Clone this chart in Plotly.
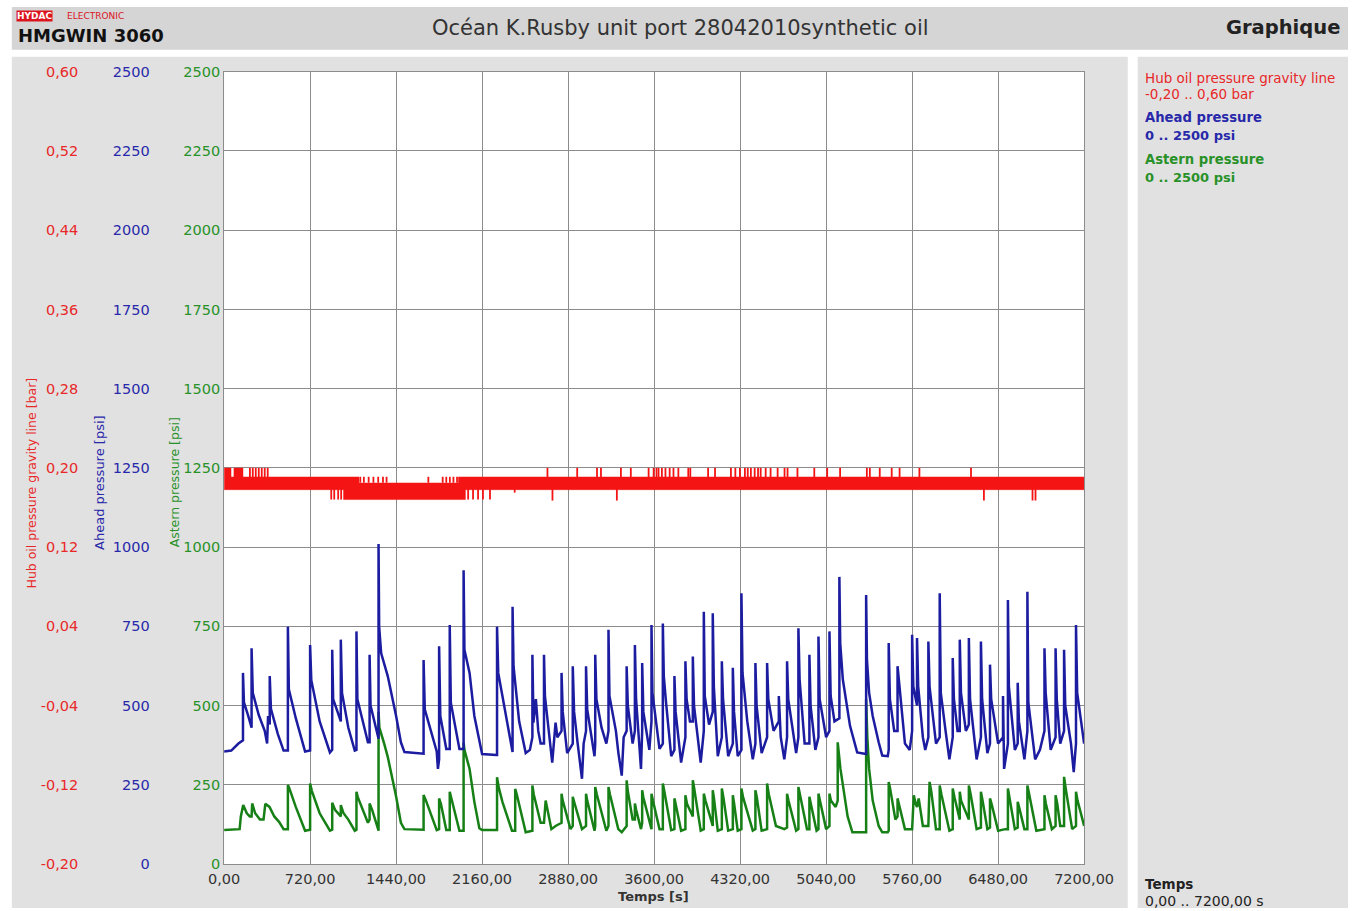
import plotly.graph_objects as go

# ---------------- data ----------------
x_ticks = [0, 720, 1440, 2160, 2880, 3600, 4320, 5040, 5760, 6480, 7200]
x_ticklabels = ["0,00", "720,00", "1440,00", "2160,00", "2880,00", "3600,00",
                "4320,00", "5040,00", "5760,00", "6480,00", "7200,00"]
psi_ticks = [0, 250, 500, 750, 1000, 1250, 1500, 1750, 2000, 2250, 2500]
psi_ticklabels = ["0", "250", "500", "750", "1000", "1250", "1500", "1750", "2000", "2250", "2500"]
bar_ticks = [-0.20, -0.12, -0.04, 0.04, 0.12, 0.20, 0.28, 0.36, 0.44, 0.52, 0.60]
bar_ticklabels = ["-0,20", "-0,12", "-0,04", "0,04", "0,12", "0,20", "0,28", "0,36", "0,44", "0,52", "0,60"]

# Ahead pressure [psi]
blue_t = [0, 60, 120, 158, 158, 166, 200, 230, 230, 240, 290, 340, 360, 368, 382, 382, 392, 450, 498,
          534, 534, 542, 600, 678, 720, 720, 730, 800, 886, 905, 905, 913, 950, 977, 977, 987, 1040, 1094,
          1108, 1108, 1116, 1170, 1204, 1218, 1218, 1226, 1288, 1293, 1293, 1298, 1315, 1370, 1440, 1480,
          1510, 1670, 1670, 1680, 1780, 1790, 1800, 1800, 1810, 1860, 1889, 1889, 1898, 1970, 2005, 2005,
          2012, 2055, 2095, 2137, 2160, 2280, 2285, 2285, 2295, 2330, 2410, 2415, 2415, 2423, 2470, 2525,
          2560, 2581, 2581, 2590, 2610, 2630, 2650, 2678, 2678, 2686, 2747, 2775, 2790, 2825, 2825, 2835,
          2872, 2919, 2919, 2930, 2960, 2996, 3010, 3030, 3030, 3040, 3101, 3107, 3107, 3117, 3160, 3200,
          3218, 3218, 3226, 3280, 3301, 3329, 3345, 3370, 3370, 3380, 3420, 3439, 3439, 3449, 3490, 3500,
          3500, 3510, 3560, 3578, 3578, 3586, 3645, 3673, 3673, 3681, 3700, 3743, 3770, 3770, 3780, 3826,
          3862, 3862, 3872, 3900, 3924, 3924, 3934, 3990, 4016, 4016, 4024, 4060, 4091, 4091, 4100, 4133,
          4167, 4167, 4177, 4220, 4259, 4259, 4269, 4300, 4331, 4331, 4340, 4380, 4426, 4448, 4448, 4458,
          4500, 4546, 4546, 4556, 4600, 4644, 4644, 4660, 4690, 4713, 4713, 4723, 4789, 4808, 4808, 4818,
          4860, 4900, 4900, 4910, 4950, 4976, 4976, 4986, 5040, 5068, 5068, 5078, 5110, 5151, 5151, 5158,
          5180, 5240, 5300, 5361, 5375, 5375, 5382, 5400, 5430, 5480, 5510, 5556, 5564, 5564, 5574, 5610,
          5638, 5638, 5650, 5700, 5740, 5760, 5760, 5770, 5801, 5801, 5811, 5850, 5870, 5896, 5896, 5906,
          5960, 5991, 5991, 6000, 6040, 6072, 6100, 6100, 6110, 6140, 6159, 6159, 6169, 6210, 6235, 6235,
          6245, 6300, 6336, 6336, 6346, 6390, 6412, 6412, 6422, 6480, 6521, 6521, 6530, 6562, 6562, 6570,
          6620, 6644, 6644, 6654, 6700, 6725, 6725, 6733, 6790, 6830, 6868, 6868, 6878, 6920, 6961, 6961,
          6971, 7000, 7032, 7032, 7042, 7090, 7113, 7132, 7132, 7142, 7200]
blue_v = [355, 358, 380, 390, 603, 510, 470, 430, 681, 540, 470, 420, 380, 467, 440, 593, 490, 410, 358,
          358, 749, 551, 460, 355, 358, 691, 580, 450, 352, 360, 676, 520, 480, 450, 708, 540, 430, 358,
          360, 734, 520, 440, 384, 384, 660, 500, 395, 395, 1010, 749, 665, 593, 467, 384,
          353, 348, 644, 488, 355, 300, 330, 687, 467, 363, 363, 754, 509, 363, 363, 927,
          676, 603, 467, 384, 347, 344, 344, 749, 603, 530, 353, 353, 812, 624, 450, 350,
          360, 400, 660, 446, 520, 420, 380, 380, 660, 530, 320, 446, 400, 420, 603, 480,
          350, 380, 624, 480, 380, 269, 380, 420, 624, 488, 340, 380, 660, 520, 430, 380,
          420, 739, 530, 420, 350, 279, 400, 420, 624, 500, 380, 420, 691, 520, 300, 420,
          634, 480, 360, 450, 754, 540, 363, 380, 759, 593, 509, 340, 360, 593, 480, 320,
          400, 640, 520, 450, 450, 655, 500, 320, 420, 796, 530, 440, 480, 791, 560, 340,
          400, 640, 520, 340, 380, 619, 480, 340, 360, 854, 603, 450, 330, 380, 634, 500,
          350, 400, 634, 520, 420, 450, 530, 400, 330, 400, 640, 520, 350, 400, 744, 582,
          380, 380, 660, 500, 360, 400, 718, 520, 400, 420, 734, 530, 450, 460, 906, 697,
          582, 436, 352, 347, 347, 849, 644, 540, 467, 384, 342, 340, 360, 697, 520, 420,
          420, 624, 572, 380, 360, 420, 723, 560, 500, 713, 560, 400, 360, 400, 702, 560,
          380, 400, 854, 540, 420, 330, 400, 650, 520, 420, 420, 708, 540, 420, 440, 713,
          520, 330, 400, 702, 520, 350, 380, 629, 520, 380, 400, 530, 300, 380, 833, 560,
          360, 380, 572, 450, 330, 420, 859, 509, 330, 360, 420, 681, 540, 360, 400, 681,
          520, 380, 420, 676, 500, 380, 290, 380, 754, 540, 380]

# Astern pressure [psi]
green_t = [0, 130, 140, 160, 190, 215, 230, 235, 260, 300, 330, 345, 380, 420, 460, 498, 534, 534, 545,
           600, 678, 720, 720, 735, 800, 886, 905, 905, 930, 977, 977, 1000, 1040, 1094, 1108, 1108, 1120,
           1170, 1204, 1218, 1218, 1240, 1288, 1293, 1293, 1300, 1340, 1370, 1440, 1480, 1510, 1670, 1670,
           1690, 1780, 1800, 1800, 1815, 1860, 1889, 1889, 1900, 1970, 2005, 2005, 2012, 2055, 2095, 2137,
           2160, 2280, 2285, 2285, 2300, 2330, 2410, 2437, 2437, 2450, 2525, 2581, 2581, 2592, 2650, 2678,
           2692, 2740, 2775, 2825, 2825, 2835, 2900, 2919, 2919, 2935, 2996, 3030, 3030, 3040, 3101, 3107,
           3107, 3120, 3200, 3218, 3218, 3230, 3300, 3329, 3370, 3370, 3380, 3420, 3439, 3439, 3450, 3490,
           3500, 3500, 3510, 3578, 3578, 3590, 3645, 3673, 3673, 3685, 3743, 3770, 3770, 3780, 3826, 3862,
           3862, 3875, 3924, 3924, 3935, 3990, 4016, 4016, 4030, 4091, 4091, 4100, 4133, 4167, 4167, 4180,
           4220, 4259, 4259, 4270, 4300, 4331, 4331, 4345, 4426, 4448, 4448, 4460, 4500, 4546, 4546, 4560,
           4620, 4690, 4713, 4713, 4725, 4789, 4808, 4808, 4820, 4880, 4900, 4900, 4912, 4960, 4976, 4976,
           4988, 5040, 5068, 5068, 5080, 5120, 5137, 5137, 5160, 5180, 5220, 5260, 5361, 5375, 5375, 5385,
           5400, 5430, 5480, 5510, 5556, 5564, 5564, 5575, 5620, 5638, 5638, 5650, 5700, 5760, 5774, 5790,
           5801, 5815, 5850, 5896, 5906, 5920, 5960, 5991, 5991, 6005, 6072, 6100, 6100, 6115, 6159, 6159,
           6170, 6235, 6235, 6250, 6300, 6336, 6336, 6350, 6390, 6412, 6412, 6425, 6480, 6540, 6562, 6562,
           6575, 6620, 6644, 6644, 6655, 6700, 6725, 6725, 6740, 6800, 6868, 6868, 6880, 6930, 6961, 6961,
           6975, 7000, 7032, 7032, 7045, 7100, 7132, 7132, 7145, 7200]
green_v = [107, 110, 150, 186, 160, 150, 150, 191, 160, 140, 140, 190, 180, 150, 133, 110, 110, 249, 240,
           180, 105, 108, 254, 230, 160, 105, 108, 193, 170, 150, 186, 160, 140, 105, 108, 228, 210,
           160, 130, 140, 191, 170, 105, 105, 480, 430, 380, 338, 213, 130, 110, 108, 218,
           200, 107, 110, 207, 190, 107, 107, 228, 210, 105, 105, 384, 360, 300, 196, 113,
           107, 107, 107, 274, 240, 196, 105, 105, 237, 220, 100, 105, 248, 220, 130, 130,
           200, 110, 120, 130, 222, 200, 110, 120, 212, 190, 110, 120, 222, 200, 105, 120,
           243, 220, 105, 120, 243, 220, 110, 100, 120, 264, 230, 140, 140, 191, 170, 110,
           130, 233, 210, 110, 222, 200, 110, 110, 254, 230, 107, 110, 207, 190, 105, 110,
           217, 190, 150, 264, 240, 105, 110, 222, 200, 120, 233, 210, 105, 110, 238, 210,
           105, 110, 217, 190, 105, 110, 238, 210, 105, 110, 233, 210, 105, 110, 254, 220,
           120, 110, 115, 222, 200, 105, 110, 243, 220, 110, 110, 212, 190, 105, 110, 222,
           200, 110, 120, 222, 200, 180, 200, 384, 300, 250, 150, 100, 100, 100, 520, 400,
           300, 200, 120, 100, 100, 105, 259, 240, 140, 150, 207, 190, 110, 110, 217, 190,
           180, 207, 120, 120, 259, 230, 110, 110, 248, 220, 105, 110, 238, 210, 140, 228,
           200, 140, 248, 220, 110, 115, 228, 200, 110, 115, 207, 190, 105, 110, 110, 238,
           210, 110, 115, 196, 180, 110, 110, 248, 220, 105, 110, 217, 190, 110, 120, 217,
           190, 120, 120, 275, 240, 110, 120, 228, 200, 120]

# Hub oil pressure gravity line [bar]: band envelope (step segments)
red_seg_t = [0, 60, 80, 160, 880, 1000, 1130, 1960, 2020, 7200]
red_seg_hi = [0.200, 0.191, 0.200, 0.191, 0.191, 0.191, 0.185, 0.191, 0.191, 0.191]
red_seg_lo = [0.178, 0.178, 0.178, 0.178, 0.178, 0.168, 0.168, 0.168, 0.178, 0.178]
# short excursions above / below the band
red_up_t = [216, 240, 265, 290, 315, 340, 365,
            1140, 1170, 1210, 1250, 1290, 1330, 1360, 1710, 1830, 1860, 1890, 1920, 1950,
            2707, 2956, 3122, 3155, 3322, 3405, 3554, 3596, 3620, 3637, 3665, 3695, 3730, 3762,
            3803, 3886, 3903, 4052, 4110, 4243, 4280, 4318, 4360, 4384, 4410, 4442, 4470, 4492,
            4534, 4575, 4634, 4692, 4717, 4800, 4941, 5049, 5157, 5381, 5406, 5489, 5589, 5655,
            5821, 6253]
red_up_v = [0.200, 0.200, 0.200, 0.200, 0.200, 0.200, 0.200,
            0.191, 0.191, 0.191, 0.191, 0.191, 0.191, 0.191, 0.191, 0.191, 0.191, 0.191, 0.191, 0.191,
            0.200, 0.200, 0.200, 0.200, 0.200, 0.200, 0.200, 0.200, 0.200, 0.200, 0.200, 0.200, 0.200,
            0.200, 0.200, 0.200, 0.200, 0.200, 0.200, 0.200, 0.200, 0.200, 0.200, 0.200, 0.200, 0.200,
            0.200, 0.200, 0.200, 0.200, 0.200, 0.200, 0.200, 0.200, 0.200, 0.200, 0.200, 0.200, 0.200,
            0.200, 0.200, 0.200, 0.200, 0.200, 0.200]
red_dn_t = [897, 922, 955, 980, 2043, 2084, 2126, 2167, 2226, 2433, 2749, 3288, 6361, 6768, 6793]
red_dn_v = [0.168, 0.168, 0.168, 0.168, 0.168, 0.168, 0.168, 0.168, 0.168, 0.175, 0.167, 0.167,
            0.167, 0.167, 0.167]

# ---------------- styling ----------------
RED = "rgb(245,20,20)"
BLUE = "rgb(28,28,160)"
GREEN = "rgb(22,128,22)"
RED_T = "rgb(232,40,40)"
BLUE_T = "rgb(40,40,170)"
GREEN_T = "rgb(40,145,40)"
GRID = "#8c8c8c"
FONT = "DejaVu Sans, Liberation Sans, sans-serif"

# figure size and mapping from reference-image pixels to figure pixels
FW, FH = 1400, 930
def fx(X):
    return (X - 12.2) / 0.975
def fy(Y):
    return (Y - 6.1) / 0.985
def px(X):
    return fx(X) / FW
def py(Y):
    return 1 - fy(Y) / FH

x0, x1 = 222, 1089
y0, y1 = 70, 864

fig = go.Figure()

fig.add_trace(go.Scatter(x=green_t, y=green_v, mode="lines", line=dict(color=GREEN, width=2.5),
                         yaxis="y", name="Astern pressure"))
fig.add_trace(go.Scatter(x=blue_t, y=blue_v, mode="lines", line=dict(color=BLUE, width=2.5),
                         yaxis="y2", name="Ahead pressure"))
fig.add_trace(go.Scatter(x=red_seg_t, y=red_seg_hi, mode="lines", line=dict(color=RED, width=0, shape="hv"),
                         yaxis="y3", showlegend=False))
fig.add_trace(go.Scatter(x=red_seg_t, y=red_seg_lo, mode="lines", line=dict(color=RED, width=0.5, shape="hv"),
                         fill="tonexty", fillcolor=RED, yaxis="y3", showlegend=False))
sx, sy = [], []
for t, v in zip(red_up_t, red_up_v):
    sx += [t, t, None]
    sy += [0.185, v, None]
for t, v in zip(red_dn_t, red_dn_v):
    sx += [t, t, None]
    sy += [0.185, v, None]
fig.add_trace(go.Scatter(x=sx, y=sy, mode="lines", line=dict(color=RED, width=1.8),
                         yaxis="y3", showlegend=False))

def rect(X0, Y0, X1, Y1, color):
    return dict(type="rect", xref="paper", yref="paper", x0=px(X0), x1=px(X1), y0=py(Y1), y1=py(Y0),
                fillcolor=color, line=dict(width=0), layer="below")

shapes = [
    rect(8, 5, 1355, 48, "#d5d5d5"),
    rect(8, 55, 1133, 908, "#e1e1e1"),
    rect(1143, 55, 1355, 908, "#e1e1e1"),
    rect(x0, y0, x1, y1, "white"),
]

def ann(text, x, y, size=12, color="black", xanchor="left", yanchor="middle", angle=0, bold=False, bg=None):
    d = dict(text=("<b>%s</b>" % text) if bold else text, x=px(x), y=py(y), xref="paper", yref="paper",
             showarrow=False, xanchor=xanchor, yanchor=yanchor, textangle=angle,
             font=dict(family=FONT, size=size, color=color))
    if bg:
        d["bgcolor"] = bg
        d["borderpad"] = 0
    return d

annotations = [
    ann("HYDAC", 12, 14, size=9, color="white", bold=True, bg="rgb(220,20,30)"),
    ann("ELECTRONIC", 62, 14, size=9, color="rgb(220,20,30)"),
    ann("HMGWIN 3060", 12, 34, size=18, color="#111", bold=True),
    ann("Océan K.Rusby unit port 28042010synthetic oil", 682, 26, size=21, color="#333", xanchor="center"),
    ann("Graphique", 1349, 26, size=19.5, color="#222", xanchor="right", bold=True),
    ann("Hub oil pressure gravity line [bar]", 28, 482, size=12.5, color=RED_T, xanchor="center", angle=-90),
    ann("Ahead pressure [psi]", 97, 482, size=13, color=BLUE_T, xanchor="center", angle=-90),
    ann("Astern pressure [psi]", 172, 482, size=12.5, color=GREEN_T, xanchor="center", angle=-90),
    ann("Temps [s]", 655, 897, size=13, color="#333", xanchor="center", bold=True),
    ann("Hub oil pressure gravity line", 1148, 76, size=13.5, color=RED_T),
    ann("-0,20 .. 0,60 bar", 1148, 92, size=13.5, color=RED_T),
    ann("Ahead pressure", 1148, 116, size=13.2, color=BLUE_T, bold=True),
    ann("0 .. 2500 psi", 1148, 134, size=13, color=BLUE_T, bold=True),
    ann("Astern pressure", 1148, 158, size=13.2, color=GREEN_T, bold=True),
    ann("0 .. 2500 psi", 1148, 176, size=13, color=GREEN_T, bold=True),
    ann("Temps", 1148, 884, size=13.5, color="#222", bold=True),
    ann("0,00 .. 7200,00 s", 1148, 901, size=14, color="#222"),
]

TICKFONT = "DejaVu Sans, sans-serif"
TS = 14.5
fig.update_layout(
    width=FW, height=FH, autosize=False,
    margin=dict(l=0, r=0, t=0, b=0),
    paper_bgcolor="white", plot_bgcolor="white",
    showlegend=False,
    font=dict(family=FONT),
    shapes=shapes, annotations=annotations,
    xaxis=dict(domain=[px(x0), px(x1)], range=[0, 7200], tickvals=x_ticks, ticktext=x_ticklabels,
               showgrid=True, gridcolor=GRID, gridwidth=1, zeroline=False,
               showline=True, mirror=True, linecolor=GRID, linewidth=1, ticks="",
               ticklabelstandoff=2,
               tickfont=dict(size=TS, color="#333", family=TICKFONT), anchor="y"),
    yaxis=dict(domain=[py(y1), py(y0)], range=[0, 2500], tickvals=psi_ticks, ticktext=psi_ticklabels,
               showgrid=True, gridcolor=GRID, gridwidth=1, zeroline=False,
               showline=True, mirror=True, linecolor=GRID, linewidth=1, ticks="",
               tickfont=dict(size=TS, color=GREEN_T, family=TICKFONT), anchor="x"),
    yaxis2=dict(overlaying="y", anchor="free", position=px(147), side="left", range=[0, 2500],
                tickvals=psi_ticks, ticktext=psi_ticklabels, showgrid=False, zeroline=False,
                showline=False, ticks="", tickfont=dict(size=TS, color=BLUE_T, family=TICKFONT)),
    yaxis3=dict(overlaying="y", anchor="free", position=px(75), side="left", range=[-0.2, 0.6],
                tickvals=bar_ticks, ticktext=bar_ticklabels, showgrid=False, zeroline=False,
                showline=False, ticks="", tickfont=dict(size=TS, color=RED_T, family=TICKFONT)),
)

fig.write_html("out.html", config={"displayModeBar": False},
               post_script="document.body.style.margin='0';document.body.style.overflow='hidden';")
